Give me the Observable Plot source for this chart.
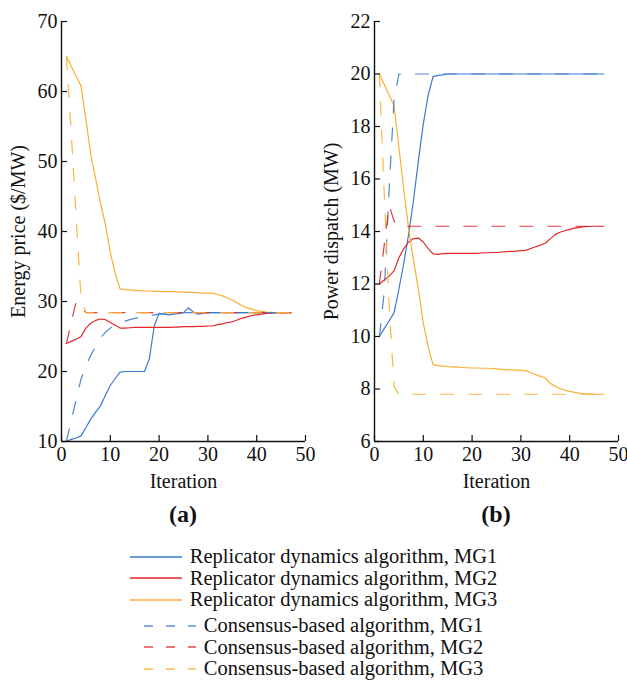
<!DOCTYPE html>
<html>
<head>
<meta charset="utf-8">
<script src="https://cdn.jsdelivr.net/npm/d3@7"></script>
<script src="https://cdn.jsdelivr.net/npm/@observablehq/plot@0.6"></script>
<style>
  html, body { margin: 0; padding: 0; background: #fff; }
  body { width: 627px; height: 681px; position: relative; overflow: hidden; font-family: "Liberation Serif", "Times New Roman", serif; color: #111; }
  #pa, #pb { position: absolute; top: 0; }
  #pa { left: 0; z-index: 2; } #pb { left: 313px; z-index: 1; }
  .cap { position: absolute; font-weight: bold; font-size: 24px; transform: translate(-50%, -50%); top: 514px; }
  #legend { position: absolute; left: 0; top: 546px; width: 627px; font-size: 20.5px; }
  .row { display: flex; justify-content: center; align-items: center; height: 21.5px; line-height: 21.5px; }
  .row svg { margin-right: 8px; }
  .gap { margin-top: 4.5px; }
</style>
</head>
<body>
<div id="pa"></div>
<div id="pb"></div>
<div class="cap" style="left:183px">(a)</div>
<div class="cap" style="left:496px">(b)</div>
<div id="legend"></div>
<script>
// ---------------- data ----------------
const iterations = [1,2,3,4,5,6,7,8,9,10,11,12,13,14,15,16,17,18,19,20,21,22,23,24,25,26,27,28,29,30,31,32,33,34,35,36,37,38,39,40,41,42,43,44,45,46,47];

const xTicks = [0,10,20,30,40,50];
const priceTicks = [10,20,30,40,50,60,70];
const dispatchTicks = [6,8,10,12,14,16,18,20,22];

const seriesNames = [
  "Replicator dynamics algorithm, MG1",
  "Replicator dynamics algorithm, MG2",
  "Replicator dynamics algorithm, MG3",
  "Consensus-based algorithm, MG1",
  "Consensus-based algorithm, MG2",
  "Consensus-based algorithm, MG3"
];

// (a) Energy price ($/MW)
const priceRdMG1 = [10.0,10.3,10.5,10.8,12.0,13.2,14.2,15.1,16.6,18.0,
  19.0,19.9,20.0,20.0,20.0,20.0,20.0,21.8,26.5,28.3,
  28.2,28.1,28.2,28.3,28.4,29.1,28.5,28.2,28.3,28.4,
  28.4,28.4,28.4,28.4,28.4,28.4,28.4,28.4,28.4,28.4,
  28.4,28.4,28.4,28.4,28.4,28.4,28.4];
const priceRdMG2 = [24.0,24.3,24.6,25.0,26.2,26.9,27.3,27.5,27.4,27.0,
  26.6,26.2,26.2,26.25,26.3,26.3,26.3,26.3,26.3,26.3,
  26.3,26.3,26.35,26.35,26.4,26.4,26.4,26.45,26.45,26.5,
  26.5,26.7,26.8,27.0,27.1,27.35,27.6,27.8,28.0,28.1,
  28.2,28.3,28.35,28.4,28.4,28.4,28.4];
const priceRdMG3 = [65.0,63.6,62.2,60.8,56.0,51.0,47.5,44.0,41.0,37.0,
  34.0,31.8,31.7,31.65,31.6,31.55,31.5,31.5,31.45,31.45,
  31.4,31.4,31.4,31.35,31.35,31.3,31.3,31.25,31.2,31.2,
  31.2,31.0,30.8,30.5,30.2,29.8,29.4,29.1,28.9,28.7,
  28.6,28.5,28.45,28.4,28.4,28.4,28.4];
const priceCbMG1 = [10.0,13.0,16.0,18.9,20.8,22.3,23.6,24.8,25.6,26.2,
  26.6,26.9,27.2,27.4,27.6,27.7,27.9,28.0,28.1,28.2,
  28.3,28.35,28.4,28.4,28.4,28.4,28.4,28.4,28.4,28.4,
  28.4,28.4,28.4,28.4,28.4,28.4,28.4,28.4,28.4,28.4,
  28.4,28.4,28.4,28.4,28.4,28.4,28.4];
const priceCbMG2 = [24.0,27.0,30.0,29.2,28.4,28.4,28.4,28.4,28.4,28.4,
  28.4,28.4,28.4,28.4,28.4,28.4,28.4,28.4,28.4,28.4,
  28.4,28.4,28.4,28.4,28.4,28.4,28.4,28.4,28.4,28.4,
  28.4,28.4,28.4,28.4,28.4,28.4,28.4,28.4,28.4,28.4,
  28.4,28.4,28.4,28.4,28.4,28.4,28.4];
const priceCbMG3 = [65.0,54.0,42.0,30.5,28.4,28.4,28.4,28.4,28.4,28.4,
  28.4,28.4,28.4,28.4,28.4,28.4,28.4,28.4,28.4,28.4,
  28.4,28.4,28.4,28.4,28.4,28.4,28.4,28.4,28.4,28.4,
  28.4,28.4,28.4,28.4,28.4,28.4,28.4,28.4,28.4,28.4,
  28.4,28.4,28.4,28.4,28.4,28.4,28.4];

// (b) Power dispatch (MW)
const dispRdMG1 = [10.0,10.3,10.6,10.9,11.8,12.8,13.9,15.2,16.7,18.1,
  19.2,19.9,19.95,19.97,20.0,20.0,20.0,20.0,20.0,20.0,
  20.0,20.0,20.0,20.0,20.0,20.0,20.0,20.0,20.0,20.0,
  20.0,20.0,20.0,20.0,20.0,20.0,20.0,20.0,20.0,20.0,
  20.0,20.0,20.0,20.0,20.0,20.0,20.0];
const dispRdMG2 = [12.0,12.15,12.3,12.5,13.0,13.35,13.6,13.73,13.75,13.6,
  13.35,13.15,13.13,13.16,13.17,13.17,13.17,13.17,13.17,13.17,
  13.17,13.18,13.19,13.2,13.2,13.22,13.23,13.24,13.25,13.27,
  13.28,13.35,13.42,13.48,13.55,13.72,13.88,13.97,14.03,14.08,
  14.13,14.16,14.18,14.19,14.2,14.2,14.2];
const dispRdMG3 = [20.0,19.6,19.2,18.8,17.2,15.6,14.1,12.9,11.8,10.5,
  9.6,8.93,8.89,8.87,8.85,8.84,8.83,8.82,8.81,8.8,
  8.8,8.79,8.79,8.78,8.77,8.75,8.74,8.73,8.72,8.71,
  8.70,8.62,8.55,8.48,8.42,8.22,8.1,8.02,7.96,7.91,
  7.87,7.84,7.82,7.81,7.8,7.8,7.8];
const dispCbMG1 = [10.0,11.7,15.6,19.0,20.0,20.0,20.0,20.0,20.0,20.0,
  20.0,20.0,20.0,20.0,20.0,20.0,20.0,20.0,20.0,20.0,
  20.0,20.0,20.0,20.0,20.0,20.0,20.0,20.0,20.0,20.0,
  20.0,20.0,20.0,20.0,20.0,20.0,20.0,20.0,20.0,20.0,
  20.0,20.0,20.0,20.0,20.0,20.0,20.0];
const dispCbMG2 = [12.0,13.5,15.0,14.4,14.2,14.2,14.2,14.2,14.2,14.2,
  14.2,14.2,14.2,14.2,14.2,14.2,14.2,14.2,14.2,14.2,
  14.2,14.2,14.2,14.2,14.2,14.2,14.2,14.2,14.2,14.2,
  14.2,14.2,14.2,14.2,14.2,14.2,14.2,14.2,14.2,14.2,
  14.2,14.2,14.2,14.2,14.2,14.2,14.2];
const dispCbMG3 = [20.0,15.4,11.2,8.1,7.8,7.8,7.8,7.8,7.8,7.8,
  7.8,7.8,7.8,7.8,7.8,7.8,7.8,7.8,7.8,7.8,
  7.8,7.8,7.8,7.8,7.8,7.8,7.8,7.8,7.8,7.8,
  7.8,7.8,7.8,7.8,7.8,7.8,7.8,7.8,7.8,7.8,
  7.8,7.8,7.8,7.8,7.8,7.8,7.8];

// ---------------- styles ----------------
const colors = ["#3A7BC8", "#E3262A", "#FBAE34", "#3A7BC8", "#E3262A", "#FBAE34"];
const dashed = [false, false, false, true, true, true];
const plotDash = "13,15";
const legendDash = "9,13";

function table(arrays) {
  return arrays.map((vals, s) => iterations.map((it, i) => ({iter: it, value: vals[i], s})));
}

function panel({arrays, yDomain, yTicks, yLabel}) {
  const W = 313, H = 495, mL = 61, mR = 8, mT = 21, mB = 54;
  const pw = W - mL - mR, ph = H - mT - mB;
  const data = table(arrays);
  const lines = data.map((rows, s) => Plot.line(rows, {
    x: "iter", y: "value", stroke: colors[s], strokeWidth: 1.2,
    strokeDasharray: dashed[s] ? plotDash : null,
    strokeOpacity: dashed[s] ? 0.9 : 1
  }));
  return Plot.plot({
    width: W, height: H,
    marginLeft: mL, marginRight: mR, marginTop: mT, marginBottom: mB,
    style: {fontFamily: "'Liberation Serif', 'Times New Roman', serif", fontSize: "20px", color: "#111", background: "transparent", overflow: "visible"},
    x: {domain: [0, 50], ticks: xTicks, tickSize: 0, tickPadding: 5, label: "Iteration", labelAnchor: "center", labelOffset: 46, labelArrow: "none"},
    y: {domain: yDomain, ticks: yTicks, tickSize: 0, tickPadding: 4, label: yLabel, labelAnchor: "center", labelOffset: 51, labelArrow: "none"},
    marks: [
      ...lines,
      Plot.tickX(xTicks, {x: d => d, insetTop: ph - 6, stroke: "#111", strokeWidth: 1.2}),
      Plot.tickY(yTicks, {y: d => d, insetRight: pw - 6, stroke: "#111", strokeWidth: 1.2}),
      Plot.ruleX([0], {stroke: "#111", strokeWidth: 1.4}),
      Plot.ruleY([yDomain[0]], {stroke: "#111", strokeWidth: 1.4})
    ]
  });
}

document.getElementById("pa").appendChild(panel({
  arrays: [priceRdMG1, priceRdMG2, priceRdMG3, priceCbMG1, priceCbMG2, priceCbMG3],
  yDomain: [10, 70], yTicks: priceTicks, yLabel: "Energy price ($/MW)"
}));
document.getElementById("pb").appendChild(panel({
  arrays: [dispRdMG1, dispRdMG2, dispRdMG3, dispCbMG1, dispCbMG2, dispCbMG3],
  yDomain: [6, 22], yTicks: dispatchTicks, yLabel: "Power dispatch (MW)"
}));

// legend
const legend = document.getElementById("legend");
seriesNames.forEach((name, s) => {
  const row = document.createElement("div");
  row.className = "row" + (s === 3 ? " gap" : "");
  const ns = "http://www.w3.org/2000/svg";
  const svg = document.createElementNS(ns, "svg");
  svg.setAttribute("width", 52); svg.setAttribute("height", 10);
  const ln = document.createElementNS(ns, "line");
  ln.setAttribute("x1", 0); ln.setAttribute("x2", 52);
  ln.setAttribute("y1", 5); ln.setAttribute("y2", 5);
  ln.setAttribute("stroke", colors[s]); ln.setAttribute("stroke-width", 1.4);
  if (dashed[s]) { ln.setAttribute("stroke-dasharray", legendDash); ln.setAttribute("stroke-opacity", 0.85); }
  svg.appendChild(ln);
  const span = document.createElement("span");
  span.textContent = name;
  row.appendChild(svg); row.appendChild(span);
  legend.appendChild(row);
});
</script>
</body>
</html>
